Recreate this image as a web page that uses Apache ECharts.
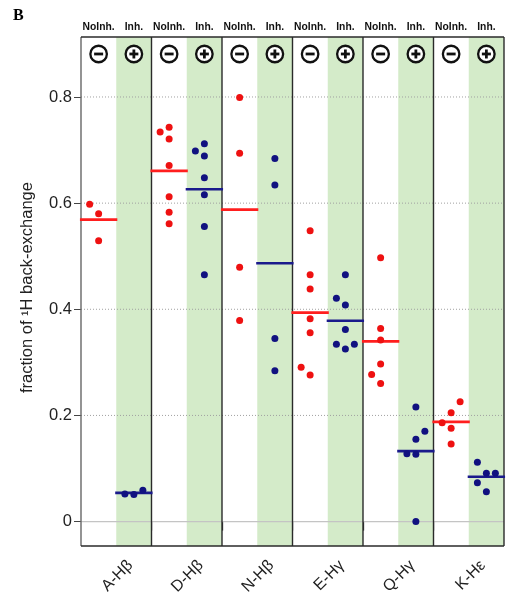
<!DOCTYPE html>
<html>
<head>
<meta charset="utf-8">
<script src="https://cdn.jsdelivr.net/npm/echarts@6/dist/echarts.min.js"></script>
<style>html,body{margin:0;padding:0;background:#fff}#c{width:511px;height:600px}</style>
</head>
<body>
<div id="c"></div>
<script>
// ---- data ----
const groups = ['A-Hβ', 'D-Hβ', 'N-Hβ', 'E-Hγ', 'Q-Hγ', 'K-Hε'];
const conditionLabels = ['NoInh.', 'Inh.'];
const yTicks = [0, 0.2, 0.4, 0.6, 0.8];
const noInhA = [0.598, 0.580, 0.529];
const noInhD = [0.743, 0.734, 0.721, 0.671, 0.612, 0.583, 0.561];
const noInhN = [0.799, 0.694, 0.479, 0.379];
const noInhE = [0.548, 0.465, 0.438, 0.382, 0.356, 0.291, 0.276];
const noInhQ = [0.497, 0.364, 0.342, 0.297, 0.277, 0.260];
const noInhK = [0.226, 0.205, 0.186, 0.176, 0.146];
const inhA = [0.059, 0.052, 0.051];
const inhD = [0.712, 0.698, 0.689, 0.648, 0.616, 0.556, 0.465];
const inhN = [0.684, 0.634, 0.345, 0.284];
const inhE = [0.465, 0.421, 0.408, 0.362, 0.334, 0.334, 0.325];
const inhQ = [0.216, 0.170, 0.155, 0.128, 0.127, 0.000];
const inhK = [0.112, 0.091, 0.091, 0.073, 0.056];
const noInh = [noInhA, noInhD, noInhN, noInhE, noInhQ, noInhK];
const inh = [inhA, inhD, inhN, inhE, inhQ, inhK];

// ---- layout constants ----
const Y_MIN = -0.046, Y_MAX = 0.913, X_MAX = 12;
const HEADER_Y = 0.881;
const SLOT = 0.255, TH = 0.0215, HALF = 0.53;
const RED = '#ee1111', BLUE = '#111180';

function swarm(vals) {
  const idx = vals.map((v, i) => i).sort((a, b) => vals[a] - vals[b]);
  const placed = [], slots = new Array(vals.length);
  let side = -1;
  for (const i of idx) {
    const v = vals[i];
    const free = s => placed.every(p => p.s !== s || Math.abs(p.v - v) >= TH - 1e-9);
    let s = 0;
    if (!free(0)) {
      for (let k = 1; k < 10; k++) {
        if (free(side * k)) { s = side * k; side = -side; break; }
        if (free(-side * k)) { s = -side * k; break; }
      }
    }
    placed.push({ s, v }); slots[i] = s;
  }
  return slots;
}
const mean = a => a.reduce((s, v) => s + v, 0) / a.length;

function pts(sets, off) {
  const out = [];
  sets.forEach((vals, g) => {
    const sl = swarm(vals);
    vals.forEach((v, i) => out.push([2 * g + off + sl[i] * SLOT, v]));
  });
  return out;
}
const redPts = pts(noInh, 0.5);
const bluePts = pts(inh, 1.5);
const meanData = [];
groups.forEach((g, i) => {
  meanData.push([2 * i + 0.5, mean(noInh[i]), 0]);
  meanData.push([2 * i + 1.5, mean(inh[i]), 1]);
});
const headerData = [];
groups.forEach((g, i) => { headerData.push([2 * i + 0.5, HEADER_Y, 0]); headerData.push([2 * i + 1.5, HEADER_Y, 1]); });

const chart = echarts.init(document.getElementById('c'), null, { renderer: 'canvas' });
const option = {
  animation: false,
  backgroundColor: '#fff',
  title: { text: 'B', left: 8, top: 3, textStyle: { fontFamily: 'Liberation Serif', fontWeight: 'bold', fontSize: 16, color: '#000' } },
  grid: { left: 81, right: 7, top: 37, bottom: 54 },
  xAxis: {
    type: 'value', min: 0, max: X_MAX,
    splitLine: { show: false },
    axisLine: { show: false },
    axisTick: { show: true, customValues: [2, 4, 6, 8, 10], length: 9, lineStyle: { color: '#333', width: 1.3 } },
    axisLabel: {
      customValues: groups.map((g, i) => 2 * i + 1.4),
      formatter: v => groups[Math.floor(v / 2)],
      rotate: 45, margin: 17, fontSize: 16, color: '#222', fontFamily: 'Liberation Sans'
    }
  },
  yAxis: {
    type: 'value', min: Y_MIN, max: Y_MAX,
    splitLine: { show: false },
    axisLine: { show: false },
    axisTick: { show: true, customValues: yTicks, length: 7, lineStyle: { color: '#444', width: 1 } },
    axisLabel: { customValues: yTicks, formatter: v => String(v), margin: 9, fontSize: 16.5, color: '#222', fontFamily: 'Liberation Sans' },
    name: 'fraction of ¹H back-exchange', nameLocation: 'middle', nameGap: 45,
    nameTextStyle: { fontSize: 16.5, color: '#222', fontFamily: 'Liberation Sans', padding: [0, 0, 0, 8] }
  },
  series: [
    { // green backgrounds
      type: 'custom', z: 1, silent: true,
      data: groups.map((g, i) => [2 * i + 1]),
      renderItem: (p, api) => {
        const a = api.coord([api.value(0), Y_MAX]), b = api.coord([api.value(0) + 1, Y_MIN]);
        return { type: 'rect', shape: { x: a[0], y: a[1], width: b[0] - a[0], height: b[1] - a[1] }, style: { fill: '#d4ebc9' } };
      }
    },
    { // horizontal grid lines
      type: 'custom', z: 2, silent: true,
      data: yTicks.map(v => [v]),
      renderItem: (p, api) => {
        const v = api.value(0);
        const a = api.coord([0, v]), b = api.coord([X_MAX, v]);
        return { type: 'line', shape: { x1: a[0], y1: a[1], x2: b[0], y2: b[1] },
          style: v === 0 ? { stroke: '#c4c4c4', lineWidth: 1.2 } : { stroke: '#a0a0a0', lineWidth: 1, lineDash: [1, 2] } };
      }
    },
    { // frame and group separators
      type: 'custom', z: 3, silent: true,
      data: [[0, Y_MIN, 0, Y_MAX, 0], [2, Y_MIN, 2, Y_MAX, 1], [4, Y_MIN, 4, Y_MAX, 1], [6, Y_MIN, 6, Y_MAX, 1],
             [8, Y_MIN, 8, Y_MAX, 1], [10, Y_MIN, 10, Y_MAX, 1], [12, Y_MIN, 12, Y_MAX, 1],
             [0, Y_MAX, 12, Y_MAX, 1], [0, Y_MIN, 12, Y_MIN, 1]],
      renderItem: (p, api) => {
        const a = api.coord([api.value(0), api.value(1)]), b = api.coord([api.value(2), api.value(3)]);
        return { type: 'line', shape: { x1: a[0], y1: a[1], x2: b[0], y2: b[1] },
          style: { stroke: api.value(4) ? '#2a2a2a' : '#666', lineWidth: 1.4 } };
      }
    },
    { // mean lines
      type: 'custom', z: 4, silent: true,
      data: meanData,
      renderItem: (p, api) => {
        const a = api.coord([api.value(0) - HALF, api.value(1)]), b = api.coord([api.value(0) + HALF, api.value(1)]);
        return { type: 'line', shape: { x1: a[0], y1: a[1], x2: b[0], y2: b[1] },
          style: { stroke: api.value(2) ? '#1a1a8c' : '#ff1e1e', lineWidth: 2.6 } };
      }
    },
    { type: 'scatter', z: 5, symbol: 'circle', symbolSize: 7, itemStyle: { color: RED, opacity: 1 }, data: redPts },
    { type: 'scatter', z: 5, symbol: 'circle', symbolSize: 7, itemStyle: { color: BLUE, opacity: 1 }, data: bluePts },
    { // header circles with labels
      type: 'scatter', z: 6, symbol: 'circle', symbolSize: 16.5,
      itemStyle: { color: '#fff', borderColor: '#111', borderWidth: 2.3, opacity: 1 },
      label: {
        show: true, position: 'top', distance: 12,
        formatter: p => conditionLabels[p.value[2]],
        fontFamily: 'Liberation Sans', fontWeight: 'bold', fontSize: 10.3, color: '#111'
      },
      data: headerData
    },
    { // minus / plus horizontal bar
      type: 'scatter', z: 7, symbol: 'rect', symbolSize: [9, 2.8],
      itemStyle: { color: '#111', opacity: 1 }, data: headerData
    },
    { // plus vertical bar
      type: 'scatter', z: 7, symbol: 'rect', symbolSize: [2.8, 9],
      itemStyle: { color: '#111', opacity: 1 }, data: headerData.filter(d => d[2] === 1)
    }
  ]
};
chart.setOption(option);
</script>
</body>
</html>
